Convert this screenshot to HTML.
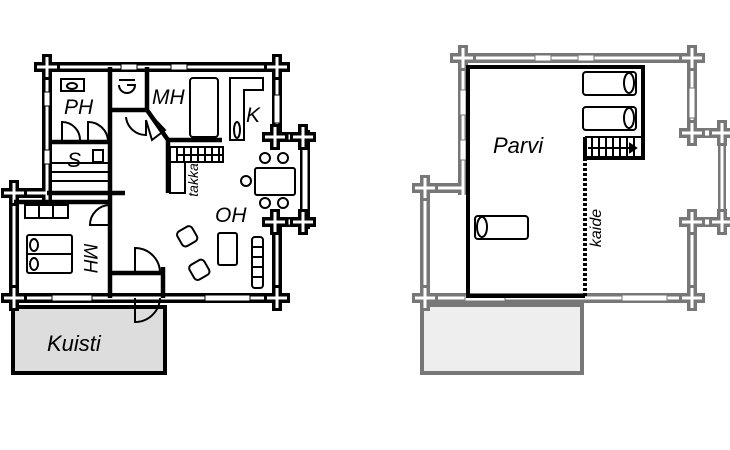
<!DOCTYPE html>
<html><head><meta charset="utf-8"><style>html,body{margin:0;padding:0;background:#fff}svg{display:block}text{font-family:"Liberation Sans",sans-serif;font-style:italic}</style></head><body>
<svg width="730" height="450" viewBox="0 0 730 450" xmlns="http://www.w3.org/2000/svg">
<defs>
<g id="cb"><rect x="-13" y="-5" width="26" height="10" fill="#000"/><rect x="-5" y="-13" width="10" height="26" fill="#000"/><rect x="-10" y="-1.5" width="20" height="3" fill="#fff"/><rect x="-1.5" y="-10" width="3" height="20" fill="#fff"/></g>
<g id="cg"><rect x="-13" y="-5" width="26" height="10" fill="#777"/><rect x="-5" y="-13" width="10" height="26" fill="#777"/><rect x="-10" y="-1.5" width="20" height="3" fill="#fff"/><rect x="-1.5" y="-10" width="3" height="20" fill="#fff"/></g>
</defs>

<!-- LEFT PLAN -->
<rect x="13" y="307" width="152" height="66" fill="#ddd" stroke="#000" stroke-width="4"/>
<g fill="none" stroke-linecap="butt">
<path d="M40 67H285 M47 60V200 M7 193H47 M14 186V305 M7 298H285 M277 60V137 M277 222V305 M275 137H303 M275 222H303 M305 130V229" stroke="#000" stroke-width="10"/>
<path d="M40 67H285 M47 60V200 M7 193H47 M14 186V305 M7 298H285 M277 60V137 M277 222V305 M275 137H303 M275 222H303 M305 130V229" stroke="#fff" stroke-width="3"/>
</g>
<g fill="#fff" stroke="#000" stroke-width="1">
<rect x="121" y="64" width="16" height="6"/><rect x="171" y="64" width="16" height="6"/>
<rect x="44" y="92" width="6" height="14"/><rect x="44" y="150" width="6" height="14"/>
<rect x="52" y="295" width="40" height="6"/><rect x="205" y="295" width="45" height="6"/>
<rect x="274" y="95" width="6" height="28"/><rect x="302" y="147" width="6" height="66"/>
<rect x="288" y="134" width="6" height="6"/><rect x="288" y="219" width="6" height="6"/>
</g>
<use href="#cb" x="47" y="67"/><use href="#cb" x="277" y="67"/><use href="#cb" x="14" y="193"/><use href="#cb" x="14" y="298"/><use href="#cb" x="277" y="298"/>
<use href="#cb" x="275" y="137"/><use href="#cb" x="303" y="137"/><use href="#cb" x="275" y="222"/><use href="#cb" x="303" y="222"/>
<g stroke="#000" stroke-width="4.5" fill="none">
<path d="M110 67V298 M47 193H125 M50 142H110 M14 202H110 M112 110H147 M147 67V110 L168 140 H222 M168 140V193 M112 273H163 M163 267V298"/>
</g>
<g stroke="#000" stroke-width="2" fill="none">
<path d="M50 163H110 M50 172H110 M50 181H110"/>
<rect x="170" y="147" width="53" height="15"/>
<path d="M177 147V162 M184 147V162 M191 147V162 M198 147V162 M205 147V162 M212 147V162 M219 147V162"/>
<path d="M222 155H176"/>
<rect x="170" y="162" width="15" height="31"/>
<rect x="61" y="79" width="23" height="12"/><ellipse cx="72" cy="86" rx="5" ry="3"/>
<path d="M62 140V122 A18 18 0 0 1 80 140 M108 140 A20 20 0 0 0 88 122 V140"/>
<rect x="93" y="150" width="10" height="12"/>
<path d="M119 85 A8 8 0 0 0 135 85 H127 M119 80H135"/>
<path d="M126 117 A20 20 0 0 0 146 135 L146 120 M148 112 L165 130 L152 140 L146 120"/>
<rect x="190" y="78" width="28" height="59" rx="3"/>
<path d="M230 78H263V90H244V140H230Z"/><ellipse cx="237" cy="130" rx="3" ry="8"/>
<path d="M110 205 A20 20 0 0 0 90 225 H110"/>
<rect x="25" y="205" width="43" height="13"/><path d="M39 205V218 M53 205V218"/>
<rect x="27" y="235" width="45" height="38" rx="2"/><path d="M27 254H72"/>
<ellipse cx="34" cy="245" rx="4" ry="6"/><ellipse cx="34" cy="264" rx="4" ry="6"/>
<path d="M135 273V248 A25 25 0 0 1 160 273 M135 298V322 A25 25 0 0 0 160 298"/>
<rect x="255" y="168" width="40" height="27" rx="2"/>
<circle cx="265" cy="158" r="5"/><circle cx="283" cy="158" r="5"/><circle cx="265" cy="203" r="5"/><circle cx="283" cy="203" r="5"/><circle cx="246" cy="181" r="5"/>
<rect x="252" y="237" width="11" height="51" rx="3"/><path d="M252 247H263 M252 257H263 M252 267H263 M252 277H263"/>
<rect x="218" y="233" width="19" height="32" rx="2"/>
<rect x="179" y="228" width="17" height="17" rx="4" transform="rotate(-30 187 237)"/>
<rect x="191" y="261" width="17" height="17" rx="4" transform="rotate(-30 200 270)"/>
</g>
<g font-size="21">
<text x="64" y="114">PH</text><text x="67" y="167">S</text><text x="152" y="104">MH</text><text x="246" y="122">K</text><text x="215" y="222">OH</text>
<text x="47" y="351" font-size="22">Kuisti</text>
<text transform="translate(84,258) rotate(90)" text-anchor="middle" font-size="19">MH</text>
<text transform="translate(198,180) rotate(-90)" text-anchor="middle" font-size="14">takka</text>
</g>

<!-- RIGHT PLAN -->
<rect x="422" y="305" width="160" height="68" fill="#eee" stroke="#777" stroke-width="4"/>
<g fill="none">
<path d="M452 58H700 M463 51V195 M418 188H463 M425 181V305 M418 298H703 M692 51V133 M692 222V305 M692 133H722 M692 222H722" stroke="#777" stroke-width="10"/>
<path d="M452 58H700 M463 51V195 M418 188H463 M425 181V305 M418 298H703 M692 51V133 M692 222V305 M692 133H722 M692 222H722" stroke="#fff" stroke-width="3"/>
<path d="M722 140V215" stroke="#777" stroke-width="8"/><path d="M722 140V215" stroke="#fff" stroke-width="3"/>
</g>
<g fill="#fff" stroke="#777" stroke-width="1">
<rect x="535" y="55" width="16" height="6"/><rect x="578" y="55" width="16" height="6"/>
<rect x="460" y="90" width="6" height="25"/><rect x="460" y="140" width="6" height="20"/>
<rect x="465" y="295" width="40" height="6"/><rect x="622" y="295" width="45" height="6"/>
<rect x="689" y="88" width="6" height="30"/><rect x="704" y="130" width="6" height="6"/><rect x="704" y="219" width="6" height="6"/>
</g>
<use href="#cg" x="463" y="58"/><use href="#cg" x="692" y="58"/><use href="#cg" x="425" y="188"/><use href="#cg" x="425" y="298"/><use href="#cg" x="692" y="298"/>
<use href="#cg" x="692" y="133"/><use href="#cg" x="722" y="133"/><use href="#cg" x="692" y="222"/><use href="#cg" x="722" y="222"/>
<g stroke="#000" fill="none">
<path d="M585 296H468V67H643V158H585V137" stroke-width="4"/>
<path d="M585 158V296" stroke-width="4" stroke-dasharray="3 2"/>
<g stroke-width="2">
<path d="M585 137H643 M592 137V158 M599 137V158 M606 137V158 M613 137V158 M620 137V158 M627 137V158 M634 137V158 M588 148H636"/>
<path d="M636 148l-6 -4v8z" fill="#000"/>
<rect x="583" y="72" width="53" height="23" rx="3"/><ellipse cx="629" cy="83" rx="5" ry="10"/>
<rect x="583" y="107" width="53" height="23" rx="3"/><ellipse cx="629" cy="118" rx="5" ry="10"/>
<rect x="475" y="216" width="53" height="23" rx="3"/><ellipse cx="482" cy="227" rx="5" ry="10"/>
</g>
</g>
<text x="493" y="153" font-size="22">Parvi</text>
<text transform="translate(601,228) rotate(-90)" text-anchor="middle" font-size="16">kaide</text>
</svg>
</body></html>
